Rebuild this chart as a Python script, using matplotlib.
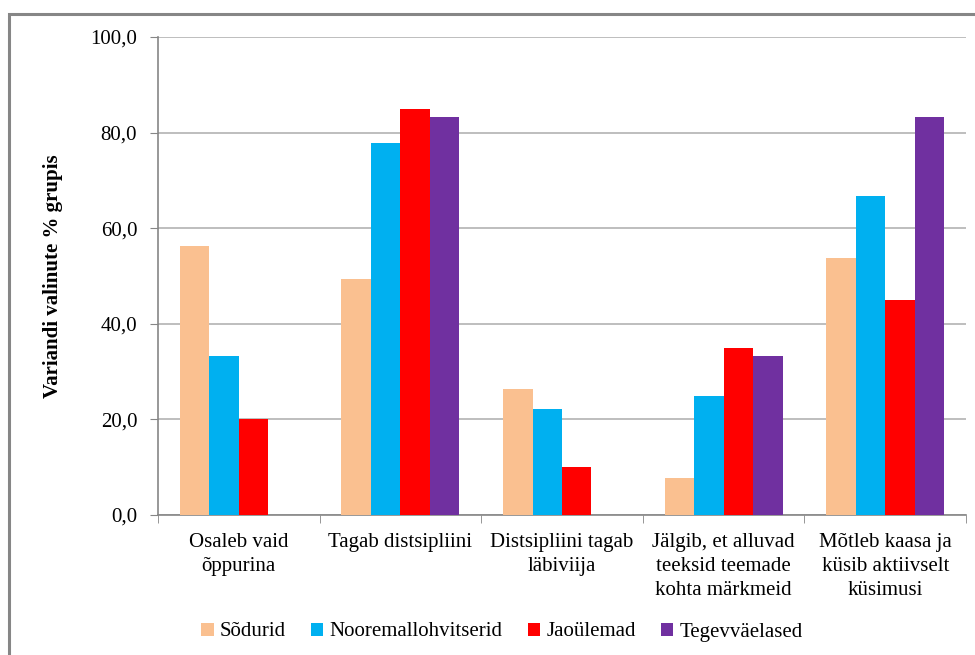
import matplotlib
matplotlib.use("Agg")
import matplotlib.pyplot as plt
import numpy as np
from matplotlib.patches import Rectangle

categories = [
    "Osaleb vaid\nõppurina",
    "Tagab distsipliini",
    "Distsipliini tagab\nläbiviija",
    "Jälgib, et alluvad\nteeksid teemade\nkohta märkmeid",
    "Mõtleb kaasa ja\nküsib aktiivselt\nküsimusi",
]
series_names = ["Sõdurid", "Nooremallohvitserid", "Jaoülemad", "Tegevväelased"]
sodurid = [56.3, 49.4, 26.4, 7.7, 53.8]
nooremallohvitserid = [33.3, 77.8, 22.2, 25.0, 66.7]
jaoulemad = [20.0, 85.0, 10.0, 35.0, 45.0]
tegevvaelased = [0.0, 83.3, 0.0, 33.3, 83.3]
colors = ["#FAC090", "#00B0F0", "#FF0000", "#7030A0"]
yticks = [0, 20, 40, 60, 80, 100]

plt.rcParams["font.family"] = "serif"
plt.rcParams["font.serif"] = ["Liberation Serif", "DejaVu Serif"]

fig = plt.figure(figsize=(9.75, 6.55), dpi=100)
ax = fig.add_axes([158 / 975, 1 - 515 / 655, (966 - 158) / 975, (515 - 37) / 655])

# grey chart border, as in the Excel export
fig.patches.append(Rectangle((9 / 975, -0.05), 1.0, 1 - 14 / 655 + 0.05,
                             transform=fig.transFigure, fill=False,
                             edgecolor="#868686", linewidth=2.2, zorder=0))

x = np.arange(len(categories))
width = 0.1825
all_series = [sodurid, nooremallohvitserid, jaoulemad, tegevvaelased]
for i, (name, vals) in enumerate(zip(series_names, all_series)):
    ax.bar(x + (i - 1.5) * width, vals, width, color=colors[i], label=name, zorder=3)

ax.set_xlim(-0.5, len(categories) - 0.5)
ax.set_ylim(0, 100)
ax.set_yticks(yticks)
ax.set_yticklabels([f"{v:.1f}".replace(".", ",") for v in yticks], fontsize=15)
ax.set_xticks(x)
ax.set_xticklabels(categories, fontsize=15, linespacing=1.35)
ax.set_xticks(np.arange(-0.5, len(categories)), minor=True)
ax.tick_params(axis="x", which="major", length=0, pad=13)
ax.tick_params(axis="x", which="minor", length=6, color="#868686")
ax.tick_params(axis="y", length=6, color="#868686", pad=9)

ax.yaxis.grid(True, color="#b3b3b3", linewidth=1.2, zorder=0)
ax.set_axisbelow(True)
for side in ["top", "right"]:
    ax.spines[side].set_visible(False)
for side in ["left", "bottom"]:
    ax.spines[side].set_color("#868686")
    ax.spines[side].set_linewidth(1.2)

ax.set_ylabel("Variandi valinute % grupis", fontsize=15, fontweight="bold", labelpad=20)

fig.legend(loc="center", bbox_to_anchor=(502 / 975, 1 - 632 / 655), ncol=4,
           frameon=False, fontsize=15, handlelength=0.6, handleheight=0.6,
           handletextpad=0.3, columnspacing=1.2)

fig.savefig("out.png", dpi=100)
